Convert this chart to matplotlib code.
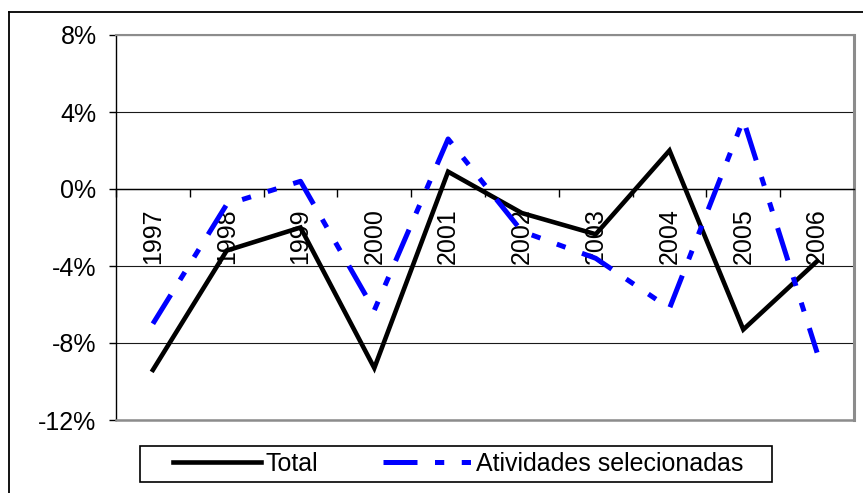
import matplotlib.pyplot as plt
import numpy as np
from matplotlib.lines import Line2D
from matplotlib.patches import Rectangle

years = ["1997", "1998", "1999", "2000", "2001", "2002", "2003", "2004", "2005", "2006"]
total = [-9.4, -3.2, -2.0, -9.3, 0.9, -1.25, -2.35, 2.0, -7.3, -3.75]
atividades = [-7.0, -0.8, 0.4, -6.3, 2.6, -2.2, -3.6, -6.2, 3.6, -8.5]
yticks = [-12, -8, -4, 0, 4, 8]

plt.rcParams["font.family"] = ["Liberation Sans", "DejaVu Sans"]

fig = plt.figure(figsize=(8.63, 4.93), dpi=100)
ax = fig.add_axes([116 / 863, 73 / 493, 738 / 863, 385 / 493])

x = np.arange(len(years))
ax.plot(x, total, color="black", lw=3.3, zorder=3, label="Total",
        solid_joinstyle="miter")
ax.plot(x, atividades, color="#0000ff", lw=3.6, zorder=4,
        linestyle=(0, (6.8, 3.5, 1.85, 3.5, 1.85, 3.5)),
        dash_capstyle="butt", label="Atividades selecionadas")

ax.set_xlim(-0.5, len(years) - 0.5)
ax.set_ylim(-12, 8)
ax.set_yticks(yticks)
ax.set_yticklabels([f"{v}%" for v in yticks])
ax.tick_params(axis="y", direction="out", length=5, width=1, pad=9,
               labelsize=18, color="black")
ax.yaxis.grid(True, color="#1a1a1a", lw=0.8)
ax.set_axisbelow(True)

# category axis sits on the 0% line
ax.spines["bottom"].set_position(("data", 0))
ax.spines["bottom"].set_color("black")
ax.spines["bottom"].set_linewidth(1)
ax.set_xticks(np.arange(len(years) + 1) - 0.5)
ax.set_xticklabels([])
ax.set_xticks(x, minor=True)
ax.set_xticklabels(years, minor=True, rotation=90, fontsize=18)
ax.tick_params(axis="x", which="major", direction="out", length=6, width=1)
ax.tick_params(axis="x", which="minor", length=0, pad=14)

ax.spines["left"].set_color("black")
ax.spines["left"].set_linewidth(1)
ax.spines["top"].set_color("#8c8c8c")
ax.spines["top"].set_linewidth(1.5)
ax.spines["right"].set_color("#8c8c8c")
ax.spines["right"].set_linewidth(2.2)
ax.axhline(-12, color="#8c8c8c", lw=1.8, zorder=5, clip_on=False)

# outer chart border
fig.add_artist(Line2D([9 / 863, 1], [1 - 12 / 493, 1 - 12 / 493],
                      color="black", lw=1.3, transform=fig.transFigure))
fig.add_artist(Line2D([9 / 863, 9 / 863], [0, 1 - 12 / 493],
                      color="black", lw=1.3, transform=fig.transFigure))

# legend box
fig.add_artist(Rectangle((140 / 863, 11 / 493), 632 / 863, 36 / 493,
                         fill=False, edgecolor="black", lw=1.2,
                         transform=fig.transFigure))
fig.legend(loc="center", bbox_to_anchor=(458 / 863, 29 / 493), ncol=2,
           frameon=False, fontsize=18, handlelength=3.5,
           handletextpad=0.2, columnspacing=2.6, borderpad=0)

fig.savefig("out.png", dpi=100)
